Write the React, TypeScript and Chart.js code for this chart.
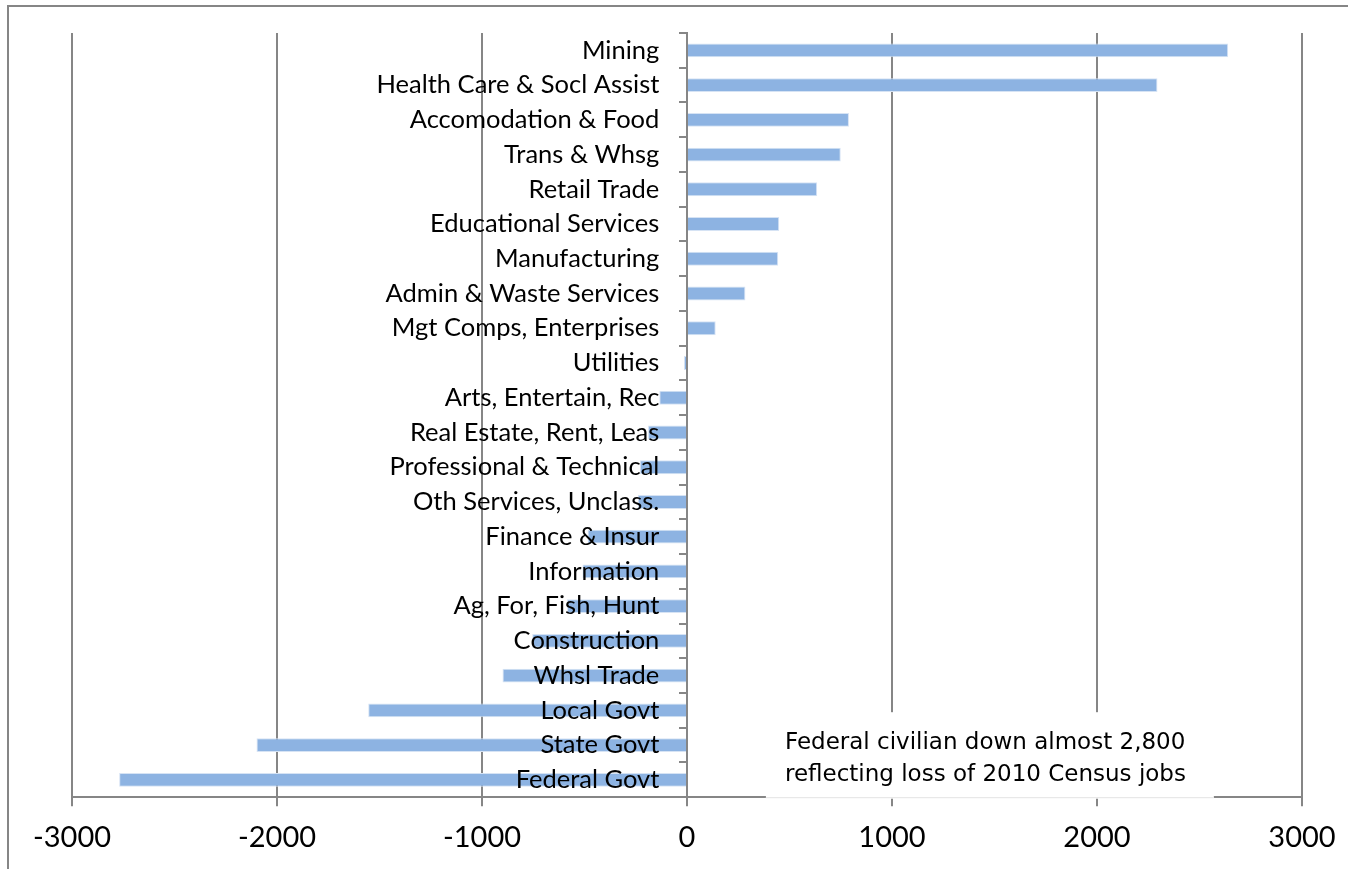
import React, { useEffect, useRef } from "react";
import { Chart, registerables } from "chart.js";

Chart.register(...registerables);

const categories = [
  "Mining",
  "Health Care & Socl Assist",
  "Accomodation & Food",
  "Trans & Whsg",
  "Retail Trade",
  "Educational Services",
  "Manufacturing",
  "Admin & Waste Services",
  "Mgt Comps, Enterprises",
  "Utilities",
  "Arts, Entertain, Rec",
  "Real Estate, Rent, Leas",
  "Professional & Technical",
  "Oth Services, Unclass.",
  "Finance & Insur",
  "Information",
  "Ag, For, Fish, Hunt",
  "Construction",
  "Whsl Trade",
  "Local Govt",
  "State Govt",
  "Federal Govt",
];

const jobChange = [
  2640, 2295, 790, 750, 635, 450, 445, 285, 140, -15, -135, -190, -230, -240,
  -485, -510, -585, -755, -900, -1555, -2100, -2770,
];

const xTicks = [-3000, -2000, -1000, 0, 1000, 2000, 3000];

const noteLines = [
  "Federal civilian down almost 2,800",
  "reflecting loss of 2010 Census jobs",
];

const GRID = "#868686";
const BAR = "#8DB3E2";

const notePlugin = {
  id: "noteBox",
  afterDraw(chart: any) {
    const { ctx, chartArea, scales } = chart;
    const x = scales.x;
    const left = x.getPixelForValue(385);
    const right = x.getPixelForValue(2570);
    const top = chartArea.bottom - 85;
    const bottom = chartArea.bottom + 1.5;
    ctx.save();
    ctx.fillStyle = "#ffffff";
    ctx.fillRect(left, top, right - left, bottom - top);
    ctx.strokeStyle = "#E3E3E3";
    ctx.lineWidth = 1;
    ctx.beginPath();
    ctx.moveTo(left, bottom - 1);
    ctx.lineTo(right, bottom - 1);
    ctx.stroke();
    ctx.fillStyle = "#000000";
    ctx.font = '23px "DejaVu Sans"';
    ctx.textAlign = "left";
    ctx.textBaseline = "alphabetic";
    noteLines.forEach((t, i) => ctx.fillText(t, left + 19, top + 37 + i * 32));
    ctx.restore();
  },
};

export default function App() {
  const ref = useRef<HTMLCanvasElement | null>(null);

  useEffect(() => {
    if (!ref.current) return;
    const chart = new Chart(ref.current, {
      type: "bar",
      data: {
        labels: categories,
        datasets: [
          {
            data: jobChange,
            backgroundColor: BAR,
            borderColor: "#D6E3F4",
            borderWidth: 1,
            barPercentage: 0.4,
            categoryPercentage: 1,
            yAxisID: "y",
          },
        ],
      },
      options: {
        indexAxis: "y",
        responsive: false,
        animation: false,
        devicePixelRatio: 1,
        layout: { padding: { left: 72, right: 46, top: 33, bottom: 0 } },
        plugins: {
          legend: { display: false },
          tooltip: { enabled: false },
        },
        scales: {
          x: {
            type: "linear",
            position: "bottom",
            min: -3000,
            max: 3000,
            afterBuildTicks: (scale: any) => {
              scale.ticks = xTicks.map((v) => ({ value: v }));
            },
            afterFit: (scale: any) => {
              scale.paddingLeft = 0;
              scale.paddingRight = 0;
            },
            grid: {
              color: GRID,
              lineWidth: 2,
              drawTicks: true,
              tickLength: 9,
              tickColor: GRID,
            },
            border: { color: GRID, width: 2 },
            ticks: {
              color: "#000000",
              font: { family: "Lato", size: 29 },
              padding: 14,
              maxRotation: 0,
              autoSkip: false,
              callback: (v: any) => String(v),
            },
          },
          y: {
            type: "category",
            axis: "y",
            position: { x: -135 } as any,
            offset: true,
            grid: { display: false },
            border: { display: false },
            ticks: {
              z: 1,
              color: "#000000",
              font: { family: "Lato", size: 25.5 },
              autoSkip: false,
              padding: 0,
            },
          },
          y2: {
            type: "category",
            axis: "y",
            position: { x: 0 } as any,
            offset: true,
            grid: {
              display: true,
              offset: true,
              drawOnChartArea: false,
              drawTicks: true,
              tickLength: 7,
              color: GRID,
              lineWidth: 2,
            },
            border: { color: GRID, width: 2 },
            ticks: { display: false },
          },
        },
      } as any,
      plugins: [notePlugin],
    });
    return () => chart.destroy();
  }, []);

  return (
    <div style={{ position: "relative", width: 1348, height: 869, overflow: "hidden" }}>
      <style>{"body{margin:0;overflow:hidden;background:#fff}"}</style>
      <div
        style={{
          position: "absolute",
          left: 7,
          top: 5,
          width: 1341,
          height: 864,
          boxSizing: "border-box",
          borderTop: "2px solid #868686",
          borderLeft: "2px solid #868686",
        }}
      />
      <canvas
        ref={ref}
        width={1348}
        height={869}
        style={{ position: "absolute", left: 0, top: 0, width: 1348, height: 869 }}
      />
    </div>
  );
}
